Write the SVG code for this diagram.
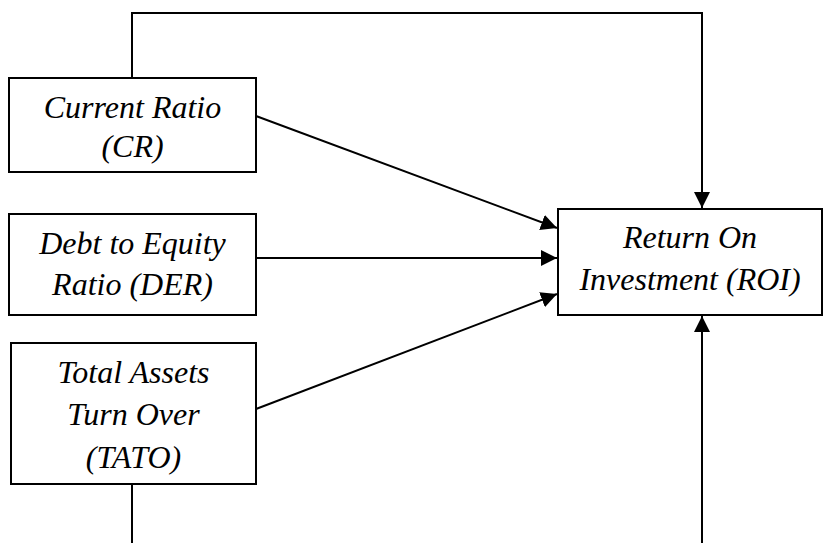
<svg xmlns="http://www.w3.org/2000/svg" width="824" height="543" viewBox="0 0 824 543">
<style>
.box{fill:#fff;stroke:#000;stroke-width:2}
.lbl{font-family:"Liberation Serif","Times New Roman",serif;font-style:italic;font-size:32px;fill:#000;text-anchor:middle}
.ln{fill:none;stroke:#000;stroke-width:2}
</style>
<defs>
<marker id="ahb" viewBox="0 0 10 10" refX="10" refY="5" markerWidth="16" markerHeight="16" markerUnits="userSpaceOnUse" orient="auto">
<path d="M0,0 L10,5 L0,10 z" fill="#000"/>
</marker>
</defs>
<g id="connectors">
<polyline class="ln" points="132,78 132,13 702,13 702,208" marker-end="url(#ahb)"/>
<polyline class="ln" points="132,484 132,543"/>
<line class="ln" x1="702" y1="543" x2="702" y2="316" marker-end="url(#ahb)"/>
<line class="ln" x1="256" y1="116" x2="557" y2="228" marker-end="url(#ahb)"/>
<line class="ln" x1="256" y1="258" x2="557" y2="258" marker-end="url(#ahb)"/>
<line class="ln" x1="256" y1="409" x2="557" y2="294" marker-end="url(#ahb)"/>
</g>
<g id="cr">
<rect class="box" x="9" y="78" width="247" height="94"/>
<text class="lbl" x="132.5" y="118">Current Ratio</text>
<text class="lbl" x="132.5" y="157">(CR)</text>
</g>
<g id="der">
<rect class="box" x="9" y="214" width="247" height="101"/>
<text class="lbl" x="132.5" y="254">Debt to Equity</text>
<text class="lbl" x="132.5" y="295">Ratio (DER)</text>
</g>
<g id="tato">
<rect class="box" x="11" y="343" width="245" height="141"/>
<text class="lbl" x="133.5" y="383">Total Assets</text>
<text class="lbl" x="133.5" y="425">Turn Over</text>
<text class="lbl" x="133.5" y="468">(TATO)</text>
</g>
<g id="roi">
<rect class="box" x="558" y="209" width="264" height="106"/>
<text class="lbl" x="690" y="248">Return On</text>
<text class="lbl" x="690" y="290">Investment (ROI)</text>
</g>
</svg>
